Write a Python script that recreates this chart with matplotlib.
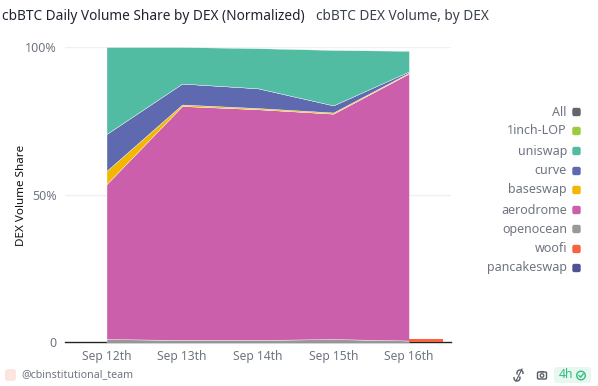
import matplotlib
matplotlib.use("Agg")
import matplotlib.pyplot as plt
from matplotlib.patches import FancyBboxPatch, Circle, Rectangle, Arc

plt.rcParams["font.family"] = ["Noto Sans", "DejaVu Sans"]

dias = ["Sep 12th", "Sep 13th", "Sep 14th", "Sep 15th", "Sep 16th"]
openocean = [1.0, 0.7, 0.7, 1.0, 0.5]
aerodrome = [52.5, 79.3, 78.2, 76.4, 90.5]
baseswap = [4.5, 0.5, 0.4, 0.4, 0.3]
curve = [12.5, 7.1, 6.7, 2.4, 0.4]
uniswap = [29.5, 12.4, 13.6, 18.8, 7.0]
woofi_ultimo = 1.1

nomes = ["All", "1inch-LOP", "uniswap", "curve", "baseswap", "aerodrome", "openocean", "woofi", "pancakeswap"]
cores = ["#63666b", "#9ccc3c", "#52bca3", "#5e69b0", "#f2b701", "#cc5fac", "#999999", "#f9623e", "#4f5296"]
cor = dict(zip(nomes, cores))

fig = plt.figure(figsize=(5.98, 3.86), dpi=100)
ax = fig.add_axes([65 / 598, (386 - 342) / 386, 386 / 598, 295 / 386])

x = list(range(len(dias)))
ax.stackplot(x, openocean, aerodrome, baseswap, curve, uniswap,
             colors=[cor["openocean"], cor["aerodrome"], cor["baseswap"], cor["curve"], cor["uniswap"]],
             edgecolor="#ffffff", linewidth=0.25, zorder=2)
ax.bar(x[-1], woofi_ultimo, width=0.45, align="edge", color=cor["woofi"], zorder=3)

ax.set_xlim(-0.549, 4.557)
ax.set_ylim(0, 100)
ax.set_xticks(x)
ax.set_xticklabels(dias, fontsize=8.7, color="#6f7580")
ax.set_yticks([0, 50, 100])
ax.set_yticklabels(["0", "50%", "100%"], fontsize=9, color="#6f7580")
ax.tick_params(length=0)
ax.tick_params(axis="y", pad=5.8)
ax.tick_params(axis="x", pad=6)
ax.grid(axis="y", color="#f0f0f2", linewidth=1, zorder=0)
for s in ["top", "right", "left"]:
    ax.spines[s].set_visible(False)
ax.spines["bottom"].set_color("#222222")
ax.spines["bottom"].set_linewidth(1)
ax.spines["bottom"].set_zorder(1)

# camada em pixeis para titulos, legenda e rodape
top = fig.add_axes([0, 0, 1, 1], facecolor="none")
top.set_xlim(0, 598)
top.set_ylim(386, 0)
top.axis("off")

top.text(2, 16, "cbBTC Daily Volume Share by DEX (Normalized)", fontsize=9.85, color="#1f2430", va="center")
top.text(316, 16, "cbBTC DEX Volume, by DEX", fontsize=9.8, color="#3a404c", va="center")
top.text(22, 195, "DEX Volume Share", fontsize=8.4, color="#111111", rotation=90, va="center", ha="center")

leg_y = [112, 131, 151, 171, 190, 210, 229, 249, 268]
for nome, yy in zip(nomes, leg_y):
    top.text(567, yy, nome, fontsize=9.0, color="#6f7580", ha="right", va="center")
    top.add_patch(FancyBboxPatch((572.3, yy - 4.2), 8.4, 8.4, boxstyle="round,pad=0,rounding_size=2",
                                 facecolor=cor[nome], edgecolor="none"))

# rodape
top.add_patch(FancyBboxPatch((5, 369), 11, 12, boxstyle="round,pad=0,rounding_size=3",
                             facecolor="#fde4df", edgecolor="none"))
top.text(21, 375, "@cbinstitutional_team", fontsize=7.7, color="#6f7580", va="center")

# icones
top.add_patch(Arc((520, 373), 6, 6, theta1=150, theta2=20, color="#555a63", linewidth=1))
top.add_patch(Arc((517, 378), 6, 6, theta1=330, theta2=200, color="#555a63", linewidth=1))
top.plot([516, 522], [381, 369], color="#555a63", linewidth=0.8)
top.add_patch(FancyBboxPatch((537.5, 372), 9, 7, boxstyle="round,pad=0,rounding_size=1.2",
                             facecolor="none", edgecolor="#555a63", linewidth=1))
top.add_patch(Rectangle((540, 370.5), 4, 1.5, facecolor="#555a63", edgecolor="none"))
top.add_patch(Circle((542, 375.5), 1.8, facecolor="none", edgecolor="#555a63", linewidth=0.9))
top.add_patch(FancyBboxPatch((554, 367), 37, 16, boxstyle="round,pad=0,rounding_size=3",
                             facecolor="#e8f8f1", edgecolor="none"))
top.text(559, 375, "4h", fontsize=8.8, color="#2fbf7f", va="center")
top.add_patch(Circle((581, 375.5), 4.3, facecolor="none", edgecolor="#2fbf7f", linewidth=1))
top.plot([579, 580.6, 583.2], [375.6, 377.2, 373.9], color="#2fbf7f", linewidth=1)

fig.savefig("out.png", dpi=100)
